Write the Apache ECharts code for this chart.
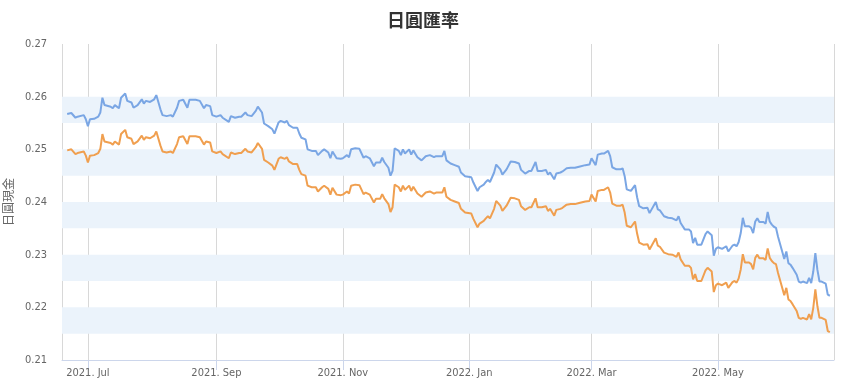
<!DOCTYPE html>
<html>
<head>
<meta charset="utf-8">
<script src="https://cdn.jsdelivr.net/npm/echarts@6/dist/echarts.min.js"></script>
<style>
html,body{margin:0;padding:0;background:#fff;}
#chart{width:846px;height:390px;}
</style>
</head>
<body>
<div id="chart"></div>
<script>
const titleText = '日圓匯率';
const yAxisName = '日圓現金';
const monthNames = ['Jan','Feb','Mar','Apr','May','Jun','Jul','Aug','Sep','Oct','Nov','Dec'];
const yMin = 0.21, yMax = 0.27, yStep = 0.01;
const bandStarts = [0.215, 0.225, 0.235, 0.245, 0.255];
const bandWidth = 0.005;
const xMin = '2021-06-18 12:00';
const xMax = '2022-06-26';

const dates = [
'2021-06-21','2021-06-23','2021-06-25','2021-06-26','2021-06-29','2021-06-30',
'2021-07-01','2021-07-02','2021-07-04','2021-07-06','2021-07-07','2021-07-08','2021-07-09','2021-07-12','2021-07-13','2021-07-14','2021-07-16','2021-07-17','2021-07-19','2021-07-20','2021-07-22','2021-07-23','2021-07-25','2021-07-27','2021-07-28','2021-07-29','2021-07-31',
'2021-08-02','2021-08-03','2021-08-05','2021-08-06','2021-08-08','2021-08-10','2021-08-11','2021-08-13','2021-08-14','2021-08-16','2021-08-18','2021-08-19','2021-08-22','2021-08-24','2021-08-26','2021-08-27','2021-08-29','2021-08-30',
'2021-09-01','2021-09-03','2021-09-04','2021-09-07','2021-09-08','2021-09-10','2021-09-12','2021-09-13','2021-09-15','2021-09-16','2021-09-18','2021-09-20','2021-09-21','2021-09-23','2021-09-24','2021-09-26','2021-09-28','2021-09-29',
'2021-10-01','2021-10-02','2021-10-04','2021-10-05','2021-10-06','2021-10-08','2021-10-10','2021-10-11','2021-10-12','2021-10-14','2021-10-15','2021-10-17','2021-10-19','2021-10-20','2021-10-22','2021-10-23','2021-10-25','2021-10-26','2021-10-27','2021-10-29','2021-10-31',
'2021-11-01','2021-11-03','2021-11-04','2021-11-05','2021-11-07','2021-11-09','2021-11-11','2021-11-12','2021-11-14','2021-11-16','2021-11-17','2021-11-19','2021-11-20','2021-11-21','2021-11-23','2021-11-24','2021-11-25','2021-11-26','2021-11-28','2021-11-29','2021-11-30',
'2021-12-01','2021-12-03','2021-12-04','2021-12-05','2021-12-07','2021-12-09','2021-12-11','2021-12-13','2021-12-15','2021-12-16','2021-12-19','2021-12-20','2021-12-21','2021-12-23','2021-12-25','2021-12-27','2021-12-28','2021-12-30',
'2022-01-02','2022-01-03','2022-01-05','2022-01-06','2022-01-08','2022-01-09','2022-01-10','2022-01-11','2022-01-13','2022-01-14','2022-01-16','2022-01-17','2022-01-19','2022-01-21','2022-01-23','2022-01-25','2022-01-26','2022-01-28','2022-01-30','2022-01-31',
'2022-02-02','2022-02-03','2022-02-05','2022-02-07','2022-02-08','2022-02-09','2022-02-11','2022-02-12','2022-02-14','2022-02-15','2022-02-17','2022-02-19','2022-02-21','2022-02-23','2022-02-26','2022-02-28',
'2022-03-01','2022-03-03','2022-03-04','2022-03-06','2022-03-07','2022-03-09','2022-03-10','2022-03-11','2022-03-13','2022-03-15','2022-03-16','2022-03-17','2022-03-18','2022-03-20','2022-03-22','2022-03-23','2022-03-24','2022-03-26','2022-03-28','2022-03-29','2022-03-30',
'2022-04-01','2022-04-02','2022-04-03','2022-04-05','2022-04-07','2022-04-09','2022-04-11','2022-04-12','2022-04-13','2022-04-15','2022-04-17','2022-04-18','2022-04-19','2022-04-20','2022-04-21','2022-04-23','2022-04-25','2022-04-26','2022-04-28','2022-04-29','2022-04-30',
'2022-05-01','2022-05-03','2022-05-05','2022-05-06','2022-05-08','2022-05-09','2022-05-10','2022-05-11','2022-05-12','2022-05-13','2022-05-14','2022-05-16','2022-05-17','2022-05-18','2022-05-19','2022-05-20','2022-05-21','2022-05-23','2022-05-24','2022-05-25','2022-05-26','2022-05-27','2022-05-28','2022-05-29','2022-05-30',
'2022-06-01','2022-06-02','2022-06-03','2022-06-04','2022-06-05','2022-06-06','2022-06-08','2022-06-09','2022-06-10','2022-06-11','2022-06-13','2022-06-14','2022-06-15','2022-06-16','2022-06-17','2022-06-18','2022-06-19','2022-06-20','2022-06-22','2022-06-23','2022-06-24'
];

const sellRate = [
0.2567,0.2569,0.2560,0.2562,0.2565,0.2557,
0.2544,0.2557,0.2558,0.2562,0.2570,0.2598,0.2584,0.2581,0.2578,0.2584,0.2578,0.2598,0.2606,0.2592,0.2589,0.2579,0.2584,0.2595,0.2587,0.2592,0.2590,
0.2595,0.2603,0.2576,0.2565,0.2563,0.2565,0.2562,0.2579,0.2592,0.2594,0.2579,0.2594,0.2594,0.2592,0.2578,0.2584,0.2582,0.2565,
0.2562,0.2565,0.2560,0.2552,0.2563,0.2560,0.2562,0.2562,0.2570,0.2565,0.2563,0.2573,0.2581,0.2570,0.2549,0.2544,0.2538,0.2530,
0.2551,0.2554,0.2551,0.2554,0.2546,0.2541,0.2541,0.2530,0.2522,0.2519,0.2500,0.2497,0.2497,0.2489,0.2497,0.2500,0.2494,0.2483,0.2496,0.2483,0.2482,
0.2483,0.2489,0.2485,0.2500,0.2502,0.2501,0.2484,0.2487,0.2483,0.2468,0.2475,0.2475,0.2484,0.2476,0.2465,0.2450,0.2459,0.2502,0.2497,0.2489,0.2500,
0.2492,0.2500,0.2490,0.2498,0.2485,0.2479,0.2487,0.2489,0.2485,0.2487,0.2487,0.2497,0.2479,0.2473,0.2470,0.2467,0.2456,0.2449,
0.2447,0.2437,0.2421,0.2428,0.2433,0.2438,0.2442,0.2438,0.2456,0.2471,0.2462,0.2452,0.2462,0.2477,0.2476,0.2473,0.2461,0.2454,0.2459,0.2459,
0.2476,0.2459,0.2459,0.2461,0.2452,0.2456,0.2443,0.2454,0.2456,0.2458,0.2464,0.2465,0.2465,0.2467,0.2470,0.2471,
0.2483,0.2470,0.2490,0.2492,0.2492,0.2497,0.2487,0.2466,0.2462,0.2462,0.2464,0.2449,0.2424,0.2421,0.2432,0.2409,0.2392,0.2388,0.2389,0.2379,0.2386,
0.2400,0.2386,0.2384,0.2373,0.2370,0.2369,0.2365,0.2373,0.2360,0.2348,0.2348,0.2344,0.2322,0.2332,0.2319,0.2319,0.2339,0.2344,0.2337,0.2298,0.2311,
0.2314,0.2311,0.2316,0.2306,0.2317,0.2319,0.2316,0.2324,0.2341,0.2370,0.2354,0.2354,0.2351,0.2341,0.2363,0.2369,0.2362,0.2362,0.2359,0.2381,0.2363,0.2357,0.2353,0.2351,0.2334,
0.2306,0.2292,0.2306,0.2284,0.2281,0.2275,0.2262,0.2249,0.2247,0.2249,0.2246,0.2256,0.2246,0.2268,0.2303,0.2271,0.2249,0.2249,0.2245,0.2224,0.2222
];

const buyRate = [
0.2498,0.2500,0.2491,0.2493,0.2496,0.2488,
0.2475,0.2488,0.2489,0.2493,0.2501,0.2529,0.2515,0.2512,0.2509,0.2515,0.2509,0.2529,0.2537,0.2523,0.2520,0.2510,0.2515,0.2526,0.2518,0.2523,0.2521,
0.2526,0.2534,0.2507,0.2496,0.2494,0.2496,0.2493,0.2510,0.2523,0.2525,0.2510,0.2525,0.2525,0.2523,0.2509,0.2515,0.2513,0.2496,
0.2493,0.2496,0.2491,0.2483,0.2494,0.2491,0.2493,0.2493,0.2501,0.2496,0.2494,0.2504,0.2512,0.2501,0.2480,0.2475,0.2469,0.2461,
0.2482,0.2485,0.2482,0.2485,0.2477,0.2472,0.2472,0.2461,0.2453,0.2450,0.2431,0.2428,0.2428,0.2420,0.2428,0.2431,0.2425,0.2414,0.2427,0.2414,0.2413,
0.2414,0.2420,0.2416,0.2431,0.2433,0.2432,0.2415,0.2418,0.2414,0.2399,0.2406,0.2406,0.2415,0.2407,0.2396,0.2381,0.2390,0.2433,0.2428,0.2420,0.2431,
0.2423,0.2431,0.2421,0.2429,0.2416,0.2410,0.2418,0.2420,0.2416,0.2418,0.2418,0.2428,0.2410,0.2404,0.2401,0.2398,0.2387,0.2380,
0.2378,0.2368,0.2352,0.2359,0.2364,0.2369,0.2373,0.2369,0.2387,0.2402,0.2393,0.2383,0.2393,0.2408,0.2407,0.2404,0.2392,0.2385,0.2390,0.2390,
0.2407,0.2390,0.2390,0.2392,0.2383,0.2387,0.2374,0.2385,0.2387,0.2389,0.2395,0.2396,0.2396,0.2398,0.2401,0.2402,
0.2414,0.2401,0.2421,0.2423,0.2423,0.2428,0.2418,0.2397,0.2393,0.2393,0.2395,0.2380,0.2355,0.2352,0.2363,0.2340,0.2323,0.2319,0.2320,0.2310,0.2317,
0.2331,0.2317,0.2315,0.2304,0.2301,0.2300,0.2296,0.2304,0.2291,0.2279,0.2279,0.2275,0.2253,0.2263,0.2250,0.2250,0.2270,0.2275,0.2268,0.2229,0.2242,
0.2245,0.2242,0.2247,0.2237,0.2248,0.2250,0.2247,0.2255,0.2272,0.2301,0.2285,0.2285,0.2282,0.2272,0.2294,0.2300,0.2293,0.2293,0.2290,0.2312,0.2294,0.2288,0.2284,0.2282,0.2265,
0.2237,0.2223,0.2237,0.2215,0.2212,0.2206,0.2193,0.2180,0.2178,0.2180,0.2177,0.2187,0.2177,0.2199,0.2234,0.2202,0.2180,0.2180,0.2176,0.2155,0.2153
];

const labelFont = "'Liberation Sans Narrow', 'DejaVu Sans Condensed', 'Roboto', sans-serif";
const chart = echarts.init(document.getElementById('chart'));
const pair = (vals) => dates.map((d, i) => [d, vals[i]]);

chart.setOption({
  animation: false,
  backgroundColor: '#ffffff',
  title: {
    text: titleText,
    left: 'center',
    top: 6,
    textStyle: { fontFamily: "'Noto Sans CJK TC', sans-serif", fontSize: 18, fontWeight: 'bold', color: '#333333' }
  },
  grid: { left: 62, right: 12, top: 44, bottom: 30, containLabel: false, outerBoundsMode: 'none' },
  xAxis: {
    type: 'time',
    min: xMin,
    max: xMax,
    splitNumber: 5,
    axisLine: { show: true, lineStyle: { color: '#ccd6eb', width: 1 } },
    axisTick: { show: true, length: 10, lineStyle: { color: '#ccd6eb' } },
    splitLine: { show: true, lineStyle: { color: '#d8d8d8', width: 1 } },
    axisLabel: {
      color: '#666666',
      fontFamily: labelFont,
      fontSize: 11,
      margin: 8,
      hideOverlap: false,
      formatter: function (v) {
        const d = new Date(v);
        return d.getFullYear() + '. ' + monthNames[d.getMonth()];
      }
    }
  },
  yAxis: {
    type: 'value',
    min: yMin,
    max: yMax,
    interval: yStep,
    name: yAxisName,
    nameLocation: 'middle',
    nameGap: 46,
    nameRotate: 90,
    nameTextStyle: { color: '#666666', fontSize: 12, fontFamily: "'Noto Sans CJK TC', sans-serif" },
    axisLine: { show: false },
    axisTick: { show: false },
    splitLine: { show: false },
    axisLabel: {
      color: '#666666',
      fontFamily: labelFont,
      fontSize: 11,
      margin: 15,
      formatter: (v) => v.toFixed(2)
    }
  },
  series: [
    {
      name: 'sell',
      type: 'line',
      data: pair(sellRate),
      showSymbol: false,
      symbol: 'none',
      lineStyle: { color: '#7aa6e4', width: 2 },
      itemStyle: { color: '#7aa6e4' },
      z: 3,
      markArea: {
        silent: true,
        itemStyle: { color: '#ebf3fb' },
        label: { show: false },
        data: bandStarts.map(b => [{ yAxis: b }, { yAxis: b + bandWidth }])
      }
    },
    {
      name: 'buy',
      type: 'line',
      data: pair(buyRate),
      showSymbol: false,
      symbol: 'none',
      lineStyle: { color: '#f09f4f', width: 2 },
      itemStyle: { color: '#f09f4f' },
      z: 3
    }
  ]
});
</script>
</body>
</html>
